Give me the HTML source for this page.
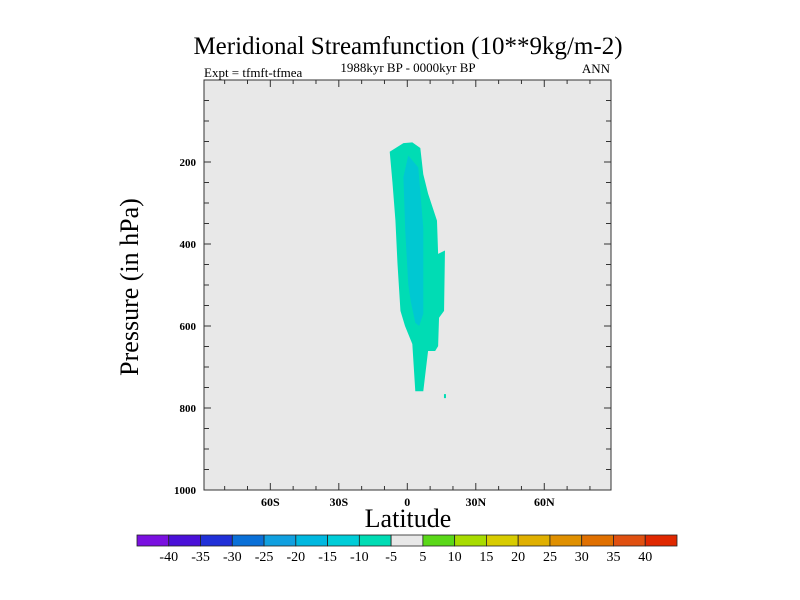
<!DOCTYPE html>
<html><head><meta charset="utf-8"><style>
body{margin:0;background:#fff;}
svg{display:block;}
text{font-family:"Liberation Serif",serif;fill:#000;}
</style></head><body>
<svg id="chart" width="800" height="600">
<text x="408" y="54" font-size="25" text-anchor="middle">Meridional Streamfunction (10**9kg/m-2)</text>
<text x="408" y="72" font-size="13" text-anchor="middle">1988kyr BP - 0000kyr BP</text>
<text x="204" y="77" font-size="13">Expt = tfmft-tfmea</text>
<text x="610" y="73" font-size="13" text-anchor="end">ANN</text>
<rect x="204" y="80" width="407" height="410" fill="#e8e8e8"/>
<g id="fills"></g>
<rect x="204" y="80" width="407" height="410" fill="none" stroke="#333" stroke-width="1"/>
<g id="ticks"></g>
<text x="408" y="527" font-size="26" text-anchor="middle">Latitude</text>
<text transform="translate(138,287) rotate(-90)" font-size="26" text-anchor="middle">Pressure (in hPa)</text>
<g id="cbar"></g>
</svg>
<script>
const outerLat=[-7.7,-1.7,2.2,5.7,7,9.1,13,13.5,16.5,16.1,13.9,13.5,12.2,9.1,7,3.5,2.2,-1,-3,-4.3,-5.2,-6.5];
const outerP=[175,154,152,166,230,277,343,424,416,563,580,649,661,661,759,759,644,600,563,448,343,250];
const innerLat=[0.4,4.8,7,7,5.2,3.5,1.5,0.4,-0.9,-1.7];
const innerP=[184,213,360,570,600,592,540,497,367,237];
const dotLat=[16.5];const dotP=[771];
const xTickVals=[-60,-30,0,30,60];
const xTickLabels=["60S","30S","0","30N","60N"];
const yTickVals=[200,400,600,800,1000];
const cbarLabels=["-40","-35","-30","-25","-20","-15","-10","-5","5","10","15","20","25","30","35","40"];
const cbarColors=["#7a10e0","#4a10d8","#2030d8","#0a70d8","#10a0e0","#00b8e0","#00cdd8","#00dcb4","#e8e8e8","#5ad818","#a8dc00","#d8cc00","#e0b000","#e09000","#e07000","#e05010","#e02800"];
const NS="http://www.w3.org/2000/svg";
const X=lat=>407.3+lat*2.283;
const Y=p=>80+p*0.41;
function mk(tag,attrs,parent){const e=document.createElementNS(NS,tag);for(const k in attrs)e.setAttribute(k,attrs[k]);parent.appendChild(e);return e;}
const fills=document.getElementById('fills');
let e=mk('polygon',{points:outerLat.map((l,i)=>X(l)+','+Y(outerP[i])).join(' '),fill:'#00dcb4'},fills);


e=mk('polygon',{points:innerLat.map((l,i)=>X(l)+','+Y(innerP[i])).join(' '),fill:'#00c8d2'},fills);


dotLat.forEach((l,i)=>{const d=mk('rect',{x:X(l)-1,y:Y(dotP[i])-2,width:2,height:4,fill:'#00dcb4'},fills);

});
const t=document.getElementById('ticks');
for(let lat=-80;lat<=80;lat+=10){const len=(lat%30===0)?7:4;
mk('line',{x1:X(lat),x2:X(lat),y1:490,y2:490-len,stroke:'#333'},t);
mk('line',{x1:X(lat),x2:X(lat),y1:80,y2:80+len,stroke:'#333'},t);}
xTickVals.forEach((v,i)=>{const tx=mk('text',{x:X(v),y:506,'font-size':12,'font-weight':'bold','text-anchor':'middle'},t);tx.textContent=xTickLabels[i];

});
for(let p=50;p<1000;p+=50){const len=(p%200===0)?7:5;
mk('line',{x1:204,x2:204+len,y1:Y(p),y2:Y(p),stroke:'#333'},t);
mk('line',{x1:611,x2:611-len,y1:Y(p),y2:Y(p),stroke:'#333'},t);}
yTickVals.forEach(v=>{const tx=mk('text',{x:196,y:Y(v)+4,'font-size':11,'font-weight':'bold','text-anchor':'end','font-family':'Liberation Sans, sans-serif'},t);tx.textContent=v;

});
const cb=document.getElementById('cbar');
const cx0=137,cw=(677-137)/cbarColors.length;
cbarColors.forEach((c,i)=>{const r=mk('rect',{x:cx0+i*cw,y:535,width:cw,height:11,fill:c,stroke:'#222','stroke-width':0.8},cb);

});
cbarLabels.forEach((l,i)=>{const tx=mk('text',{x:cx0+(i+1)*cw,y:561,'font-size':14,'text-anchor':'middle'},cb);tx.textContent=l;

});
</script>
</body></html>
